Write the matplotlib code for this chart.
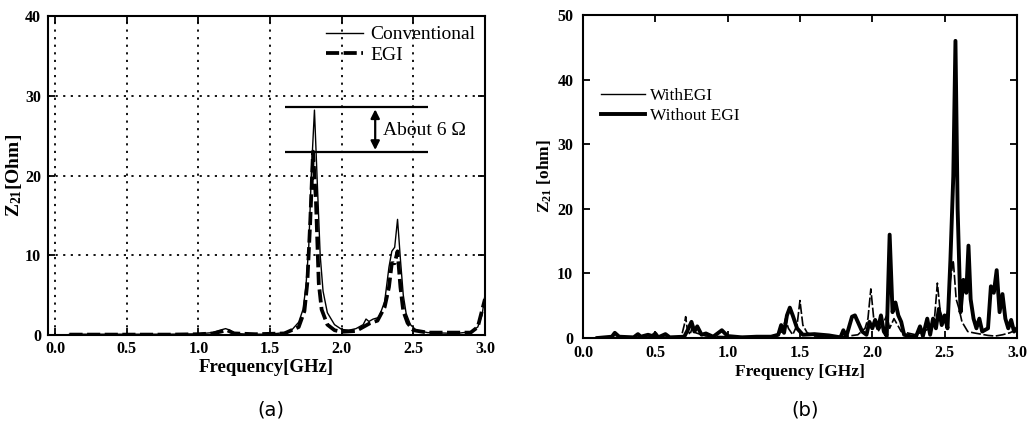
import matplotlib
matplotlib.use("Agg")
import matplotlib.pyplot as plt
from matplotlib.lines import Line2D

# ---------------- data (a) ----------------
conv_f = [0.10, 0.30, 0.50, 0.80, 1.00, 1.10, 1.15, 1.19, 1.22, 1.25, 1.35, 1.50,
          1.60, 1.65, 1.70, 1.73, 1.75, 1.77, 1.79, 1.81, 1.83, 1.85, 1.87, 1.90,
          1.95, 2.00, 2.05, 2.10, 2.15, 2.17, 2.19, 2.22, 2.26, 2.30, 2.33, 2.35,
          2.37, 2.39, 2.41, 2.43, 2.45, 2.48, 2.52, 2.60, 2.80, 2.90, 2.95, 2.98, 3.00]
conv_z = [0.1, 0.1, 0.1, 0.1, 0.15, 0.3, 0.6, 0.8, 0.6, 0.2, 0.1, 0.1,
          0.3, 0.6, 1.6, 3.2, 6.0, 11.0, 21.0, 28.2, 19.0, 10.0, 5.5, 2.8,
          1.3, 0.7, 0.6, 0.8, 1.3, 2.0, 1.7, 2.0, 2.2, 4.2, 8.5, 10.5,
          11.0, 14.5, 9.5, 5.0, 2.7, 1.3, 0.6, 0.3, 0.2, 0.4, 1.0, 2.5, 5.0]

egi_f = [0.10, 0.30, 0.50, 0.80, 1.00, 1.10, 1.15, 1.20, 1.25, 1.40, 1.60, 1.70,
         1.74, 1.76, 1.78, 1.80, 1.82, 1.84, 1.86, 1.90, 1.95, 2.00, 2.10, 2.20,
         2.25, 2.30, 2.33, 2.35, 2.37, 2.39, 2.41, 2.43, 2.46, 2.50, 2.60, 2.90,
         2.95, 3.00]
egi_z = [0.05, 0.05, 0.05, 0.05, 0.1, 0.2, 0.4, 0.6, 0.2, 0.1, 0.2, 1.0,
         3.0, 6.5, 14.0, 23.0, 17.0, 6.5, 3.2, 1.3, 0.6, 0.4, 0.5, 1.5,
         1.8, 3.5, 6.0, 9.0, 9.0, 10.5, 6.0, 3.0, 1.5, 0.6, 0.3, 0.3,
         1.0, 4.5]

# ---------------- data (b) ----------------
wo_f = [0.10, 0.20, 0.22, 0.25, 0.35, 0.38, 0.40, 0.45, 0.48, 0.50, 0.52, 0.57,
        0.60, 0.70, 0.73, 0.75, 0.77, 0.79, 0.82, 0.85, 0.90, 0.96, 1.00, 1.10,
        1.20, 1.30, 1.35, 1.37, 1.39, 1.41, 1.43, 1.45, 1.48, 1.52, 1.60, 1.70,
        1.78, 1.80, 1.82, 1.86, 1.88, 1.90, 1.93, 1.96, 1.98, 2.00, 2.02, 2.04,
        2.06, 2.08, 2.10, 2.12, 2.14, 2.16, 2.18, 2.20, 2.22, 2.30, 2.33, 2.35,
        2.38, 2.40, 2.42, 2.44, 2.46, 2.48, 2.50, 2.52, 2.54, 2.56, 2.575, 2.59,
        2.61, 2.63, 2.65, 2.665, 2.68, 2.70, 2.72, 2.74, 2.76, 2.80, 2.82, 2.84,
        2.86, 2.88, 2.90, 2.92, 2.94, 2.96, 2.98, 3.00]
wo_z = [0.0, 0.2, 0.8, 0.2, 0.1, 0.6, 0.2, 0.5, 0.3, 0.7, 0.1, 0.6,
        0.1, 0.2, 1.5, 2.5, 1.0, 1.8, 0.5, 0.7, 0.2, 1.2, 0.3, 0.1,
        0.2, 0.2, 0.5, 2.0, 0.8, 3.5, 4.7, 3.5, 1.5, 0.5, 0.6, 0.4,
        0.1, 1.2, 0.2, 3.3, 3.5, 2.5, 1.0, 0.5, 2.5, 1.5, 2.8, 1.5,
        3.5, 1.0, 0.3, 16.0, 4.0, 5.5, 3.5, 2.5, 0.5, 0.1, 1.8, 0.3,
        3.0, 0.5, 3.0, 1.5, 4.5, 2.0, 3.5, 1.5, 12.0, 25.0, 46.0, 20.0,
        4.0, 9.0, 7.0, 14.3, 6.0, 3.0, 1.5, 3.0, 1.0, 1.5, 8.0, 7.0,
        10.5, 4.0, 6.8, 3.0, 1.5, 2.8, 1.0, 1.5]

w_f = [0.10, 0.30, 0.50, 0.68, 0.70, 0.71, 0.72, 0.74, 0.76, 0.78, 0.85, 1.00,
       1.30, 1.38, 1.40, 1.42, 1.45, 1.48, 1.50, 1.52, 1.55, 1.60, 1.80, 1.90,
       1.95, 1.97, 1.99, 2.01, 2.04, 2.08, 2.10, 2.12, 2.15, 2.20, 2.30, 2.40,
       2.43, 2.45, 2.47, 2.50, 2.52, 2.54, 2.56, 2.58, 2.60, 2.62, 2.66, 2.70,
       2.75, 2.80, 2.85, 2.90, 2.95, 3.00]
w_z = [0.0, 0.1, 0.1, 0.2, 2.0, 3.3, 1.5, 0.5, 2.0, 0.8, 0.3, 0.2,
       0.2, 1.0, 3.0, 1.5, 0.5, 2.0, 5.8, 2.0, 0.8, 0.3, 0.2, 0.5,
       1.5, 3.0, 7.6, 3.0, 1.0, 2.5, 3.5, 1.5, 3.0, 1.0, 0.5, 1.5,
       3.0, 8.5, 4.0, 2.5, 4.0, 9.0, 12.0, 6.0, 4.5, 2.5, 1.0, 0.8,
       0.6, 0.4, 0.3, 0.5, 0.8, 1.3]

xticks = [0.0, 0.5, 1.0, 1.5, 2.0, 2.5, 3.0]
xticklabels = ["0.0", "0.5", "1.0", "1.5", "2.0", "2.5", "3.0"]
yticks_a = [0, 10, 20, 30, 40]
yticks_b = [0, 10, 20, 30, 40, 50]

plt.rcParams['font.family'] = ['Liberation Serif', 'DejaVu Serif']
plt.rcParams['mathtext.fontset'] = 'custom'
plt.rcParams['mathtext.rm'] = 'Liberation Serif'
plt.rcParams['mathtext.bf'] = 'Liberation Serif:bold'
plt.rcParams['mathtext.it'] = 'Liberation Serif:italic'

fig = plt.figure(figsize=(10.32, 4.34), dpi=100)
ax1 = fig.add_axes([0.0465, 0.2281, 0.4234, 0.735])
ax2 = fig.add_axes([0.5649, 0.2212, 0.4205, 0.7442])

# ---- (a) ----
ax1.plot(conv_f, conv_z, color='black', lw=1.0, label='Conventional')
ax1.plot(egi_f, egi_z, color='black', lw=2.7, ls=(0, (3.5, 1.2)), label='EGI')
ax1.set_xlim(-0.05, 3.0)
ax1.set_ylim(0, 40)
ax1.set_xticks(xticks)
ax1.set_xticklabels(xticklabels)
ax1.set_yticks(yticks_a)
ax1.grid(True, color='black', ls=(0, (1.2, 3)), lw=1.3)
ax1.set_xlabel('Frequency[GHz]', fontsize=13.5, fontweight='bold', labelpad=2)
ax1.set_ylabel(r'$\mathbf{Z_{21}}$[Ohm]', fontsize=14, fontweight='bold', labelpad=1)
ax1.hlines([28.6, 22.9], 1.605, 2.605, color='black', lw=1.6)
ax1.annotate('', xy=(2.234, 28.3), xytext=(2.234, 23.2),
             arrowprops=dict(arrowstyle='<|-|>', color='black', lw=1.6,
                             mutation_scale=13, shrinkA=0, shrinkB=0))
ax1.text(2.29, 25.6, 'About 6 Ω', fontsize=14, va='center', ha='left')
ax1.legend(loc='upper right', frameon=False, fontsize=14, handlelength=1.9,
           handletextpad=0.35, labelspacing=0.15, borderaxespad=0.3,
           borderpad=0.2)

# ---- (b) ----
ax2.plot(w_f, w_z, color='black', lw=1.2, ls=(0, (6, 1.5)))
ax2.plot(wo_f, wo_z, color='black', lw=2.8)
ax2.set_xlim(0.0, 3.0)
ax2.set_ylim(0, 50)
ax2.set_xticks(xticks)
ax2.set_xticklabels(xticklabels)
ax2.set_yticks(yticks_b)
ax2.set_xlabel('Frequency [GHz]', fontsize=12.5, fontweight='bold', labelpad=2)
ax2.set_ylabel(r'$\mathbf{Z_{21}}$ [ohm]', fontsize=12.5, fontweight='bold', labelpad=2)
handles = [Line2D([], [], color='black', lw=1.0), Line2D([], [], color='black', lw=2.8)]
ax2.legend(handles, ['WithEGI', 'Without EGI'], loc='upper left',
           bbox_to_anchor=(0.042, 0.775), frameon=False, fontsize=12.5,
           handlelength=2.5, handletextpad=0.3, labelspacing=0.25,
           borderaxespad=0.0, borderpad=0.0)

for ax in (ax1, ax2):
    for s in ax.spines.values():
        s.set_linewidth(1.5)
    ax.tick_params(direction='in', length=5, width=1.3, top=True, right=True,
                   labelsize=11.5)
    for lab in ax.get_xticklabels() + ax.get_yticklabels():
        lab.set_fontweight('bold')

ax1.tick_params(axis='x', pad=4)
ax1.tick_params(axis='y', pad=5)
ax2.tick_params(axis='x', pad=5)
ax2.tick_params(axis='y', pad=7)

fig.text(0.262, 0.055, '(a)', family='DejaVu Sans', fontsize=14, ha='center', va='center')
fig.text(0.780, 0.055, '(b)', family='DejaVu Sans', fontsize=14, ha='center', va='center')

fig.savefig('out.png', dpi=100)
